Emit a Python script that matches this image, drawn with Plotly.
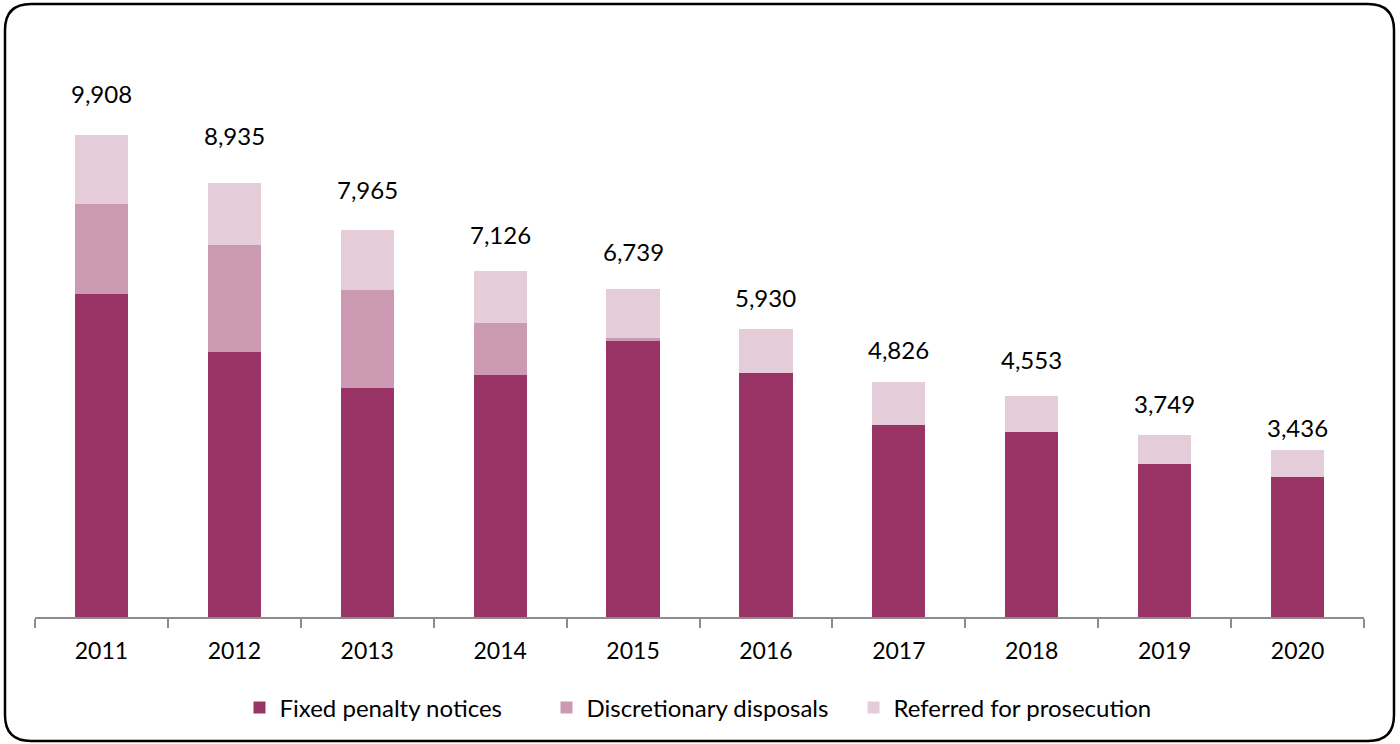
import plotly.graph_objects as go

# Outcomes by year
years = ["2011", "2012", "2013", "2014", "2015", "2016", "2017", "2018", "2019", "2020"]
fixed_penalty = [6644, 5457, 4708, 4976, 5675, 5017, 3949, 3799, 3141, 2880]
discretionary = [1845, 2189, 2015, 1069, 55, 0, 0, 0, 0, 0]
referred = [1419, 1289, 1242, 1081, 1009, 913, 877, 754, 608, 556]
totals = [9908, 8935, 7965, 7126, 6739, 5930, 4826, 4553, 3749, 3436]

series_names = ["Fixed penalty notices", "Discretionary disposals", "Referred for prosecution"]
series_colors = ["#993366", "#CC99B3", "#E5CCD9"]

# Vertical offset (px) of each total label above its bar
label_shift = [42, 47, 40, 36, 38, 31, 33, 36, 31, 22]

W, H = 1400, 744
M_L, M_R, M_T, M_B = 35, 36, 40, 127
Y_MAX = 11870
FONT = "Lato"

fig = go.Figure()
for name, vals, col in zip(series_names, [fixed_penalty, discretionary, referred], series_colors):
    fig.add_trace(go.Bar(
        x=years, y=vals, name=name,
        marker=dict(color=col, line=dict(width=0)),
        hoverinfo="x+y+name",
    ))

# Total labels, placed on the category index of each year
for i, (tot, sh) in enumerate(zip(totals, label_shift)):
    fig.add_annotation(
        x=i, y=tot, text=f"{tot:,}", showarrow=False,
        yanchor="middle", yshift=sh,
        font=dict(family=FONT, size=24, color="#000000"),
    )

# Rounded frame around the whole chart, expressed in paper coordinates
pw = W - M_L - M_R
ph = H - M_T - M_B


def px(x):
    return (x - M_L) / pw


def py(y):
    return (H - M_B - y) / ph


x0, x1, y0, y1, r = 5, 1394, 4, 741, 26
path = (
    f"M {px(x0 + r)} {py(y0)} L {px(x1 - r)} {py(y0)} "
    f"Q {px(x1)} {py(y0)} {px(x1)} {py(y0 + r)} "
    f"L {px(x1)} {py(y1 - r)} Q {px(x1)} {py(y1)} {px(x1 - r)} {py(y1)} "
    f"L {px(x0 + r)} {py(y1)} Q {px(x0)} {py(y1)} {px(x0)} {py(y1 - r)} "
    f"L {px(x0)} {py(y0 + r)} Q {px(x0)} {py(y0)} {px(x0 + r)} {py(y0)} Z"
)
fig.add_shape(type="path", path=path, xref="paper", yref="paper",
              line=dict(color="#000000", width=2.5), layer="above")

fig.update_layout(
    width=W, height=H,
    margin=dict(l=M_L, r=M_R, t=M_T, b=M_B, pad=0, autoexpand=False),
    barmode="stack",
    bargap=0.6,
    plot_bgcolor="white",
    paper_bgcolor="white",
    font=dict(family=FONT, size=22, color="#000000"),
    showlegend=True,
    legend=dict(
        orientation="h", xref="container", yref="container",
        x=0.5, xanchor="center", y=(H - 708) / H, yanchor="middle",
        font=dict(family=FONT, size=24, color="#000000"),
        itemwidth=30, traceorder="normal",
        entrywidth=262, entrywidthmode="pixels",
    ),
    xaxis=dict(
        type="category", automargin=False,
        range=[-0.5, len(years) - 0.5], autorange=False,
        showline=True, linecolor="#8C8C8C", linewidth=1.5,
        ticks="outside", tickson="boundaries", ticklen=9, tickcolor="#8C8C8C", tickwidth=1.5,
        ticklabelstandoff=13,
        tickfont=dict(family=FONT, size=23, color="#000000"),
        showgrid=False, zeroline=False,
    ),
    yaxis=dict(
        range=[0, Y_MAX], autorange=False, visible=False, showgrid=False, zeroline=False,
        automargin=False,
    ),
)

fig.write_html("out.html", config={"displayModeBar": False})
